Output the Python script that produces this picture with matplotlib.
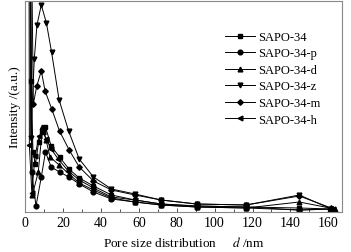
import matplotlib
matplotlib.use("Agg")
import matplotlib.pyplot as plt
from matplotlib.ticker import MultipleLocator

plt.rcParams['font.family'] = ['Liberation Serif', 'DejaVu Serif']
plt.rcParams['mathtext.fontset'] = 'stix'

labels = ['SAPO-34', 'SAPO-34-p', 'SAPO-34-d', 'SAPO-34-z', 'SAPO-34-m', 'SAPO-34-h']
markers = ['s', 'o', '^', 'v', 'D', '<']

d_sq = [2.0, 3.2, 4.2, 5.5, 7.2, 8.8, 10.8, 13.8, 18.2, 23.2, 28.6, 36.1, 45.6, 58.0, 71.8, 90.5, 116.6, 144.7, 161.0]
v_sq = [500, 131, 60, 48, 70, 80, 85, 66, 55, 43, 34, 26, 17, 12, 8, 6, 5, 4, 3]

d_p = [2.0, 3.5, 5.8, 8.6, 10.8, 13.8, 18.2, 23.2, 28.6, 36.1, 45.6, 58.0, 71.8, 90.5, 116.6, 144.7, 162.0]
v_p = [500, 40, 6, 35, 60, 45, 40, 35, 28, 20, 13, 10, 7, 5, 4, 2, 3]

d_d = [2.0, 3.9, 7.0, 9.2, 11.1, 13.2, 18.0, 23.2, 28.6, 36.1, 45.6, 58.0, 71.8, 90.5, 116.6, 144.7, 163.5]
v_d = [500, 17, 40, 85, 72, 55, 47, 38, 29, 22, 14, 10, 7, 5, 4, 10, 3]

d_z = [2.0, 3.0, 4.9, 6.3, 8.6, 11.3, 14.0, 18.0, 23.0, 28.6, 36.1, 45.6, 58.0, 71.8, 90.5, 116.6, 144.7, 161.5]
v_z = [500, 74, 153, 187, 207, 189, 160, 112, 81, 53, 35, 23, 18, 12, 8, 7, 17, 3]

d_m = [2.0, 4.4, 6.2, 8.6, 10.6, 14.1, 18.2, 23.3, 28.6, 36.1, 45.6, 58.0, 71.8, 90.5, 116.6, 144.7, 161.5]
v_m = [500, 108, 126, 141, 121, 103, 81, 62, 45, 31, 22, 17, 12, 8, 7, 16, 4]

d_h = [1.9, 2.3, 3.6, 5.3, 7.4, 9.6, 11.2, 13.8, 17.5, 22.8, 28.6, 36.1, 45.6, 58.0, 71.8, 90.5, 116.6, 144.7, 162.5]
v_h = [500, 67, 19, 56, 76, 80, 73, 63, 53, 41, 32, 24, 15, 12, 8, 6, 5, 2, 3]

series = [(d_sq, v_sq), (d_p, v_p), (d_d, v_d), (d_z, v_z), (d_m, v_m), (d_h, v_h)]

fig = plt.figure(figsize=(3.51, 2.53), dpi=100)
ax = fig.add_axes([25/351, 1-213/253, 317/351, 211/253])

for (xd, yd), lab, mk in zip(series, labels, markers):
    ms = 2.8 if mk == 'D' else 3.4
    ax.plot(xd, yd, color='black', lw=0.7, marker=mk, ms=ms, label=lab)

ax.set_xlim(0, 167.2)
ax.set_ylim(0, 211)
ax.xaxis.set_major_locator(MultipleLocator(20))
ax.xaxis.set_minor_locator(MultipleLocator(10))
ax.tick_params(axis='x', which='both', direction='in', labelsize=10, pad=3, color='#333333')
ax.tick_params(axis='x', which='major', length=3, width=0.6)
ax.tick_params(axis='x', which='minor', length=2, width=0.6)
ax.set_yticks([])
for s in ax.spines.values():
    s.set_color('#888888')
    s.set_linewidth(0.8)

ax.set_xlabel('Pore size distribution     $\\it{d}$ /nm', fontsize=9.5, labelpad=4)
ax.set_ylabel('Intensity /(a.u.)', fontsize=9.5, labelpad=3)

leg = ax.legend(loc='upper left', bbox_to_anchor=(220/351, 1-27/253), bbox_transform=fig.transFigure,
                frameon=False, fontsize=9, handlelength=2.4, labelspacing=0.36,
                handletextpad=0.25, borderaxespad=0)

fig.savefig('out.png', dpi=100)
